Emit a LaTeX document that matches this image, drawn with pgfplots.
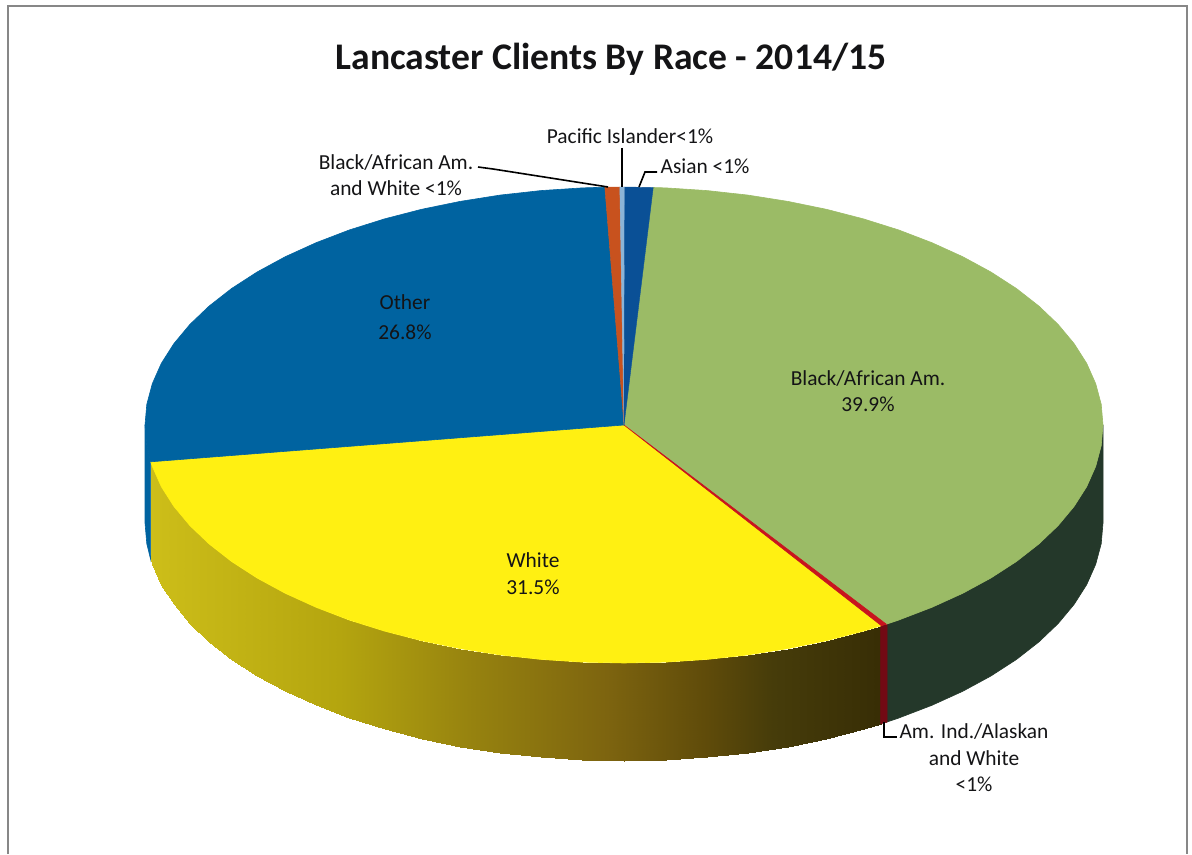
\documentclass[border=0pt]{standalone}
\usepackage{pgfplots}
\pgfplotsset{compat=1.18}
\usepackage{fontspec}
\setmainfont{Carlito}
\definecolor{cgreen}{RGB}{155,187,102}
\definecolor{cgreenside}{RGB}{36,56,42}
\definecolor{cyellow}{RGB}{255,240,18}
\definecolor{cblue}{RGB}{0,99,160}
\definecolor{casian}{RGB}{10,80,150}
\definecolor{corange}{RGB}{200,82,30}
\definecolor{cpacific}{RGB}{140,180,215}
\definecolor{cred}{RGB}{200,20,30}
\definecolor{credside}{RGB}{115,10,20}
\definecolor{ctext}{RGB}{20,20,22}
\begin{document}
\begin{tikzpicture}
\begin{axis}[
  scale only axis, width=596pt, height=427pt,
  xmin=0, xmax=1192, ymin=0, ymax=854, y dir=reverse,
  hide axis, clip=false,
  colormap={yellowside}{rgb255(1.5cm)=(205,190,25); rgb255(3.4cm)=(180,165,15);
    rgb255(4.73cm)=(150,130,15); rgb255(6.07cm)=(125,100,15);
    rgb255(7.07cm)=(95,75,10); rgb255(7.73cm)=(70,60,10); rgb255(8.85cm)=(55,45,5)},
  point meta min=150, point meta max=885,
]
% full page extent
\path (axis cs:0,0) rectangle (axis cs:1192,854);
% frame
\addplot[draw={rgb,255:red,135;green,135;blue,135}, line width=0.8pt, no marks] coordinates {(8,854) (8,6) (1187,6) (1187,854)};

% blue side
\addplot[fill=cblue, draw=cblue, line width=0.3pt] coordinates {
 (145,425) (146.8,445.7) (150.7,461.8) (150.7,559.8) (146.8,543.7) (145,523)} --cycle;
% green side
\addplot[fill=cgreenside, draw=cgreenside, line width=0.3pt] coordinates {
 (1103,425) (1101.2,445.7) (1095.7,466.3) (1086.7,486.6) (1074.1,506.4) (1058.1,525.6)
 (1038.8,544) (1016.4,561.5) (990.9,578) (962.7,593.3) (931.9,607.3) (898.8,620) (886.3,624.2)
 (886.3,722.2) (898.8,718) (931.9,705.3) (962.7,691.3) (990.9,676) (1016.4,659.5) (1038.8,642)
 (1058.1,623.6) (1074.1,604.4) (1086.7,584.6) (1095.7,564.3) (1101.2,543.7) (1103,523)} --cycle;
% yellow side
\addplot[surf, shader=interp, mesh/rows=25, mesh/cols=2, point meta=x] table {
x y
881.4 625.7
881.4 723.7
863.5 631.1
863.5 729.1
826.4 640.7
826.4 738.7
787.8 648.6
787.8 746.6
748 654.9
748 752.9
707.2 659.4
707.2 757.4
665.8 662.1
665.8 760.1
624 663
624 761
582.2 662.1
582.2 760.1
540.8 659.4
540.8 757.4
500 654.9
500 752.9
460.2 648.6
460.2 746.6
421.6 640.7
421.6 738.7
384.5 631.1
384.5 729.1
349.2 620
349.2 718
316.1 607.3
316.1 705.3
285.3 593.3
285.3 691.3
257.1 578
257.1 676
231.6 561.5
231.6 659.5
209.2 544
209.2 642
189.9 525.6
189.9 623.6
173.9 506.4
173.9 604.4
161.3 486.6
161.3 584.6
152.3 466.3
152.3 564.3
150.7 461.8
150.7 559.8
};
% red side
\addplot[fill=credside, draw=credside, line width=0.3pt] coordinates {
 (887,624.2) (880.6,625.7) (880.6,723.7) (887,722.2)} --cycle;

% top: green (Black/African Am. 39.9%)
\addplot[fill=cgreen, draw=cgreen, line width=0.3pt] coordinates {
 (624,425) (653.2,187.5) (665.8,187.9) (707.2,190.6) (748,195.1) (787.8,201.4) (826.4,209.3)
 (863.5,218.9) (898.8,230) (931.9,242.7) (962.7,256.7) (990.9,272) (1016.4,288.5) (1038.8,306)
 (1058.1,324.4) (1074.1,343.6) (1086.7,363.4) (1095.7,383.7) (1101.2,404.3) (1103,425)
 (1101.2,445.7) (1095.7,466.3) (1086.7,486.6) (1074.1,506.4) (1058.1,525.6) (1038.8,544)
 (1016.4,561.5) (990.9,578) (962.7,593.3) (931.9,607.3) (898.8,620) (886.3,624.2)} --cycle;
% top: yellow (White 31.5%)
\addplot[fill=cyellow, draw=cyellow, line width=0.3pt] coordinates {
 (624,425) (881.4,625.7) (863.5,631.1) (826.4,640.7) (787.8,648.6) (748,654.9) (707.2,659.4)
 (665.8,662.1) (624,663) (582.2,662.1) (540.8,659.4) (500,654.9) (460.2,648.6) (421.6,640.7)
 (384.5,631.1) (349.2,620) (316.1,607.3) (285.3,593.3) (257.1,578) (231.6,561.5) (209.2,544)
 (189.9,525.6) (173.9,506.4) (161.3,486.6) (152.3,466.3) (150.7,461.8)} --cycle;
% top: red sliver (Am. Ind./Alaskan and White)
\addplot[fill=cred, draw=cred, line width=0.3pt] coordinates {
 (624,425) (886.3,624.2) (881.4,625.7)} --cycle;
% top: blue (Other 26.8%)
\addplot[fill=cblue, draw=cblue, line width=0.3pt] coordinates {
 (624,425) (150.7,461.8) (146.8,445.7) (145,425) (146.8,404.3) (152.3,383.7) (161.3,363.4)
 (173.9,343.6) (189.9,324.4) (209.2,306) (231.6,288.5) (257.1,272) (285.3,256.7) (316.1,242.7)
 (349.2,230) (384.5,218.9) (421.6,209.3) (460.2,201.4) (500,195.1) (540.8,190.6) (582.2,187.9)
 (604.8,187.2)} --cycle;
% top: orange (Black/African Am. and White)
\addplot[fill=corange, draw=corange, line width=0.2pt] coordinates {
 (624,425) (604.8,187.2) (619.8,187)} --cycle;
% top: pacific
\addplot[fill=cpacific, draw=cpacific, line width=0.2pt] coordinates {
 (624,425) (619.8,187) (624.8,187)} --cycle;
% top: asian
\addplot[fill=casian, draw=casian, line width=0.2pt] coordinates {
 (624,425) (624.8,187) (653.2,187.5)} --cycle;

% leader lines
\addplot[black, line width=0.8pt, no marks] coordinates {(478,167) (493,169) (608,187)};
\addplot[black, line width=0.8pt, no marks] coordinates {(622,148) (622,187)};
\addplot[black, line width=0.8pt, no marks] coordinates {(657,172) (645,172) (639,187)};
\addplot[black, line width=0.8pt, no marks] coordinates {(884,722) (884,737) (897,737)};

% text
\node[anchor=base, text=ctext, font=\fontsize{18.8}{22}\selectfont\bfseries] at (axis cs:611,70) {Lancaster Clients By Race - 2014/15};
\begin{scope}[every node/.style={anchor=base, text=ctext, font=\fontsize{10.7}{13}\selectfont}]
\node at (axis cs:630,144) {Pacific Islander<1\%};
\node at (axis cs:705,174) {Asian <1\%};
\node at (axis cs:396,170) {Black/African Am.};
\node at (axis cs:396,196) {and White <1\%};
\node at (axis cs:974,738) {Am. Ind./Alaskan};
\node at (axis cs:974,765) {and White};
\node at (axis cs:974,791) {<1\%};
\node at (axis cs:405,310) {Other};
\node at (axis cs:405,339) {26.8\%};
\node at (axis cs:868,385) {Black/African Am.};
\node at (axis cs:868,411) {39.9\%};
\node at (axis cs:533,567) {White};
\node at (axis cs:533,594) {31.5\%};
\end{scope}
\end{axis}
\end{tikzpicture}
\end{document}
